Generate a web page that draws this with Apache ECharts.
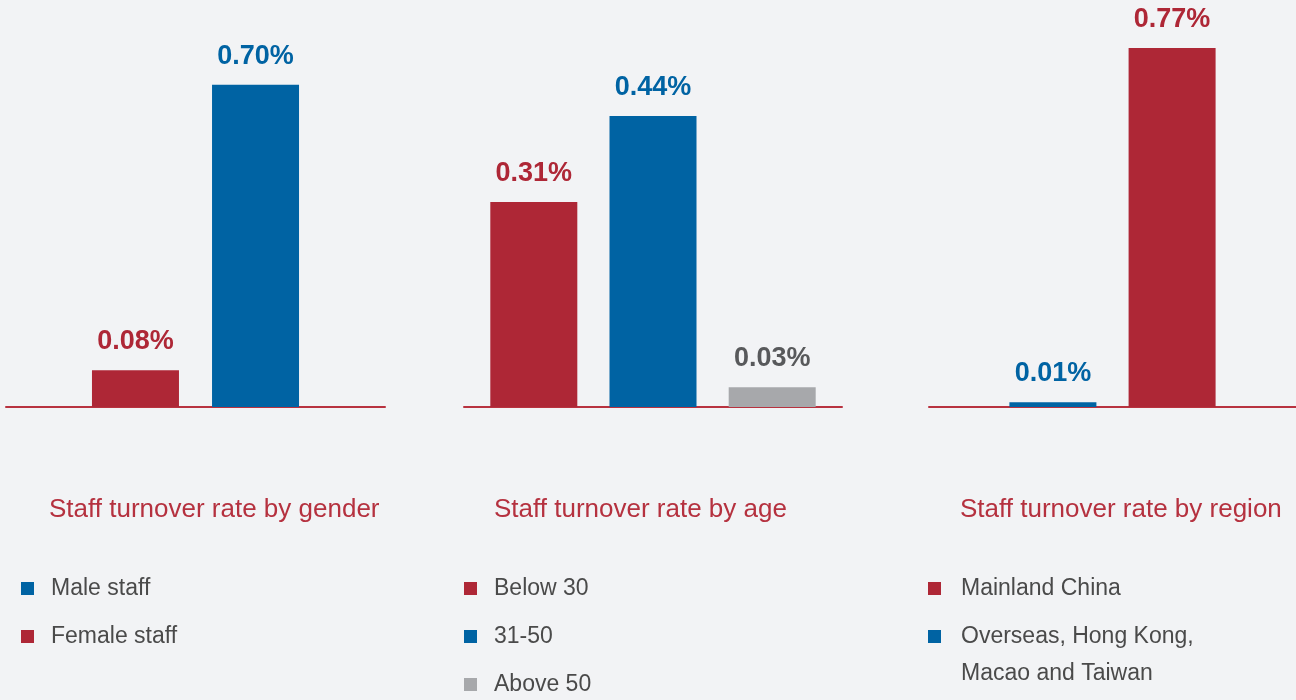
<!DOCTYPE html>
<html>
<head>
<meta charset="utf-8">
<script src="https://cdn.jsdelivr.net/npm/echarts@6/dist/echarts.min.js"></script>
<style>html,body{margin:0;padding:0;background:#f2f3f5;}#c{width:1296px;height:700px;}</style>
</head>
<body>
<div id="c"></div>
<script>
// ---- data ----
const panelTitles = ['Staff turnover rate by gender', 'Staff turnover rate by age', 'Staff turnover rate by region'];
const genderNames = ['Female staff', 'Male staff'];
const genderValues = [0.08, 0.70];
const genderLegend = ['Male staff', 'Female staff'];
const ageNames = ['Below 30', '31-50', 'Above 50'];
const ageValues = [0.31, 0.44, 0.03];
const ageLegend = ['Below 30', '31-50', 'Above 50'];
const regionNames = ['Overseas, Hong Kong, Macao and Taiwan', 'Mainland China'];
const regionValues = [0.01, 0.77];
const regionLegend = ['Mainland China', 'Overseas, Hong Kong, Macao and Taiwan'];

// ---- styles ----
const RED = '#ae2736', BLUE = '#0063a3', GRAY = '#a7a8ab';
const genderColors = [RED, BLUE];
const ageColors = [RED, BLUE, GRAY];
const regionColors = [BLUE, RED];
const labelColorOf = c => (c === GRAY ? '#58595b' : c);
const BREAK = 'Hong Kong, ';
const firstLine = n => (n.indexOf(BREAK) >= 0 ? n.split(BREAK)[0] + BREAK.trim() : n);
const secondLine = n => (n.indexOf(BREAK) >= 0 ? n.split(BREAK)[1] : '');

const panels = [
  {names: genderNames, values: genderValues, colors: genderColors, legend: genderLegend, left: 6, width: 379, max: 0.78, gap: '38%', titleLeft: 49, legendLeft: 21, textPad: 12},
  {names: ageNames, values: ageValues, colors: ageColors, legend: ageLegend, left: 464, width: 378, max: 0.543, gap: '37%', titleLeft: 494, legendLeft: 464, textPad: 12},
  {names: regionNames, values: regionValues, colors: regionColors, legend: regionLegend, left: 929, width: 379, max: 0.77, gap: '37%', titleLeft: 960, legendLeft: 928, textPad: 15}
];

const LEGEND_TEXT = {fontFamily: 'Liberation Sans', fontSize: 23, color: '#4a4a4a', lineHeight: 37};
const grid = [], xAxis = [], yAxis = [], series = [], legend = [], title = [];
panels.forEach((p, i) => {
  grid.push({left: p.left, width: p.width, top: 48, bottom: 293, containLabel: false});
  xAxis.push({type: 'category', gridIndex: i, data: [''],
    axisLine: {show: true, lineStyle: {color: '#b8323f', width: 2}},
    axisTick: {show: false}, axisLabel: {show: false}, splitLine: {show: false}});
  yAxis.push({type: 'value', gridIndex: i, min: 0, max: p.max, show: false, splitLine: {show: false}});
  p.names.forEach((n, j) => {
    series.push({
      type: 'bar', name: n, xAxisIndex: i, yAxisIndex: i,
      data: [p.values[j]], barWidth: 87, barGap: p.gap,
      itemStyle: {color: p.colors[j]},
      label: {show: true, position: 'top', distance: 15,
        formatter: v => v.value.toFixed(2) + '%',
        color: labelColorOf(p.colors[j]), fontFamily: 'Liberation Sans', fontWeight: 'bold', fontSize: 27},
      emphasis: {disabled: true}, silent: true
    });
  });
  title.push({text: panelTitles[i], left: p.titleLeft, top: 497, padding: 0,
    textStyle: {fontFamily: 'Liberation Sans', fontWeight: 'normal', fontSize: 26, color: '#b5313f'}});
  legend.push({
    orient: 'vertical', left: p.legendLeft, top: 570, height: 300, padding: 0,
    itemWidth: 13, itemHeight: 13, itemGap: 11,
    icon: 'rect', selectedMode: false,
    data: p.legend,
    formatter: firstLine,
    textStyle: Object.assign({padding: [0, 0, 0, p.textPad]}, LEGEND_TEXT)
  });
  // continuation line of a wrapped legend entry
  p.legend.forEach((n, k) => {
    const s = secondLine(n);
    if (s) {
      title.push({text: s, left: p.legendLeft + 13 + 5 + p.textPad, top: 570 + 12 + 48 * k + 37 - 12, padding: 0,
        textStyle: Object.assign({fontWeight: 'normal'}, LEGEND_TEXT)});
    }
  });
});

const chart = echarts.init(document.getElementById('c'), null, {renderer: 'canvas'});
chart.setOption({
  backgroundColor: '#f2f3f5',
  animation: false,
  title, grid, xAxis, yAxis, series, legend
});
</script>
</body>
</html>
